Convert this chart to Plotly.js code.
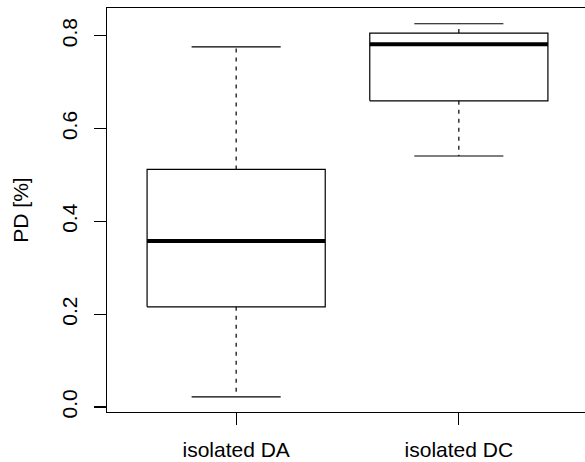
<!DOCTYPE html>
<html>
<head>
<meta charset="utf-8">
<script src="https://cdn.plot.ly/plotly-3.0.1.min.js"></script>
<style>
html,body{margin:0;padding:0;overflow:hidden;background:#fff;}
#chart{width:590px;height:462px;}
</style>
</head>
<body>
<div id="chart"></div>
<script>
// Data
var categories = ["isolated DA", "isolated DC"];
var lowerWhisker = [0.022, 0.541];
var q1 = [0.216, 0.660];
var median = [0.358, 0.782];
var q3 = [0.512, 0.806];
var upperWhisker = [0.776, 0.826];
var yTickVals = [0.0, 0.2, 0.4, 0.6, 0.8];
var yTickText = ["0.0", "0.2", "0.4", "0.6", "0.8"];

var boxHalf = 0.4, capHalf = 0.2;
var bx = [], by = [], mx = [], my = [], wx = [], wy = [], cx = [], cy = [];
categories.forEach(function (c, k) {
  var i = k + 1;
  bx.push(i - boxHalf, i + boxHalf, i + boxHalf, i - boxHalf, i - boxHalf, null);
  by.push(q1[k], q1[k], q3[k], q3[k], q1[k], null);
  mx.push(i - boxHalf, i + boxHalf, null);
  my.push(median[k], median[k], null);
  wx.push(i, i, null, i, i, null);
  wy.push(q3[k], upperWhisker[k], null, q1[k], lowerWhisker[k], null);
  cx.push(i - capHalf, i + capHalf, null, i - capHalf, i + capHalf, null);
  cy.push(upperWhisker[k], upperWhisker[k], null, lowerWhisker[k], lowerWhisker[k], null);
});

var traces = [
  {x: wx, y: wy, mode: "lines", line: {color: "black", width: 1.2, dash: "4px,5px"}, hoverinfo: "skip"},
  {x: cx, y: cy, mode: "lines", line: {color: "black", width: 1.2}, hoverinfo: "skip"},
  {x: bx, y: by, mode: "lines", line: {color: "black", width: 1.2}, hoverinfo: "skip"},
  {x: mx, y: my, mode: "lines", line: {color: "black", width: 4}, hoverinfo: "skip"}
];

var font = {family: "Liberation Sans, Arial, sans-serif", size: 21, color: "black"};
var layout = {
  width: 590, height: 462,
  margin: {l: 107, r: 2, t: 8, b: 50, pad: 0},
  paper_bgcolor: "white", plot_bgcolor: "white",
  showlegend: false,
  font: font,
  xaxis: {
    range: [0.42, 2.58], tickvals: [1, 2], ticktext: categories,
    showgrid: false, zeroline: false, showline: true, mirror: true,
    linecolor: "black", linewidth: 1.2,
    ticks: "outside", ticklen: 12, tickcolor: "black", tickwidth: 1.2,
    ticklabelstandoff: 7, tickfont: font
  },
  yaxis: {
    range: [-0.0108, 0.860], tickvals: yTickVals, ticktext: yTickText,
    tickangle: -90,
    showgrid: false, zeroline: false, showline: true, mirror: true,
    linecolor: "black", linewidth: 1.2,
    ticks: "outside", ticklen: 12, tickcolor: "black", tickwidth: 1.2,
    ticklabelstandoff: 8, tickfont: font,
    title: {text: "PD [%]", font: font, standoff: 24}
  }
};
Plotly.newPlot("chart", traces, layout, {displayModeBar: false, staticPlot: true});
</script>
</body>
</html>
